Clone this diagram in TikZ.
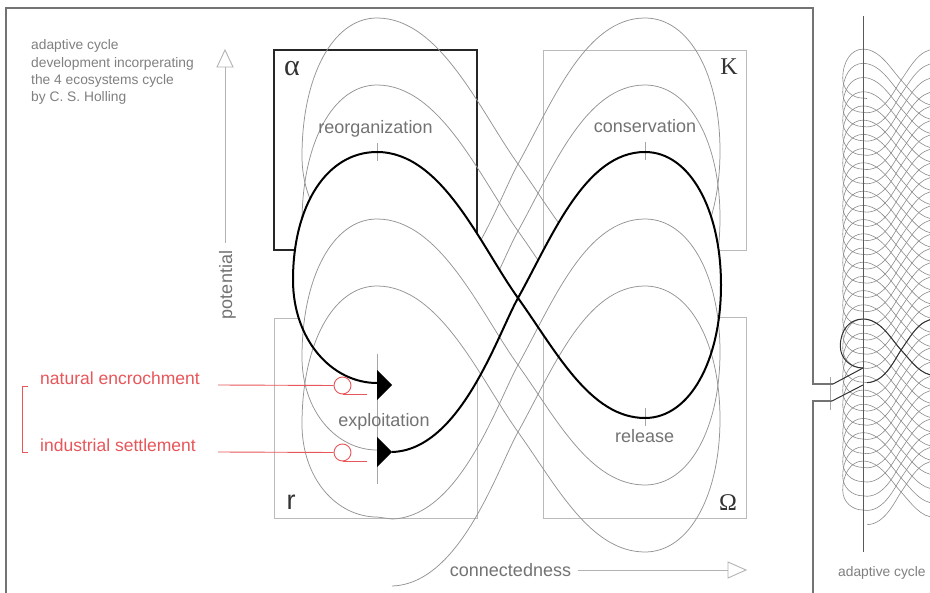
\documentclass[tikz,border=0pt]{standalone}
\usepackage{fontspec}
\setmainfont{Liberation Sans}
\newfontfamily\grfont{Liberation Serif}
\definecolor{annred}{RGB}{232,86,90}
\def\cyclepath{(392,452) .. controls (460,450) and (497,336) .. (518,298) .. controls (552,237) and (585,152) .. (645,152) .. controls (690,152) and (721,210) .. (721,285) .. controls (721,360) and (690,418) .. (645,418) .. controls (590,418) and (556,351) .. (518,298) .. controls (480,245) and (442,152) .. (377,152) .. controls (327,152) and (293,205) .. (293,280) .. controls (293,340) and (332,383) .. (377,383)}
\def\graypath{(392,452) .. controls (460,450) and (497,336) .. (518,298) .. controls (552,237) and (585,152) .. (645,152) .. controls (690,152) and (720,210) .. (720,285) .. controls (720,360) and (690,418) .. (645,418) .. controls (590,418) and (556,351) .. (518,298) .. controls (480,245) and (440,152) .. (377,152) .. controls (333,152) and (302,210) .. (302,290) .. controls (302,345) and (337,383) .. (377,383)}
\begin{document}
\begin{tikzpicture}[x=1pt,y=-1pt,
  graybox/.style={draw=black!27, line width=0.9pt},
  alphabox/.style={draw=black!85, line width=2pt},
  spiral/.style={draw=black!42, line width=0.75pt},
  sidespiral/.style={draw=black!45, line width=0.6pt},
  sidedark/.style={draw=black!80, line width=1pt},
  thickcyc/.style={draw=black, line width=2pt},
  ticks/.style={draw=black!35, line width=0.8pt},
  axisln/.style={draw=black!30, line width=0.9pt},
  framel/.style={draw=black!55, line width=1.1pt},
  lbl/.style={text=black!55, inner sep=0pt, font=\fontsize{18}{20}\selectfont},
  small/.style={text=black!50, inner sep=0pt, anchor=base west, font=\fontsize{13.8}{16}\selectfont},
  redlbl/.style={text=annred, inner sep=0pt, anchor=base west, font=\fontsize{17.5}{20}\selectfont},
  redln/.style={draw=annred, line width=0.9pt},
  greek/.style={text=black!80, inner sep=0pt, font=\grfont\fontsize{24}{26}\selectfont}
]
\useasboundingbox (0,0) rectangle (930,593);
\clip (0,0) rectangle (930,593);
\fill[white] (0,0) rectangle (930,593);

% quadrant boxes
\draw[alphabox] (274,50) rectangle (477,250);
\draw[graybox] (543,50) rectangle (746,250);
\draw[graybox] (274,318) rectangle (477,518);
\draw[graybox] (543,317) rectangle (746,518);

% earlier (upper) turns of the spiral, behind the highlighted cycle
\draw[spiral, shift={(0,-134)}] \graypath;
\draw[spiral, shift={(0,-67)}] \graypath -- (392,318);

% mask inside the highlighted cycle
\fill[white] \cyclepath -- cycle;

% axes
\node[lbl, rotate=90] (pot) at (227.5,285) {potential};
\coordinate (potTop) at (225,67);
\draw[axisln] (225,243) -- (potTop);
\draw[axisln, fill=white] (potTop) -- ++(-8,0) -- (225,50) -- (233,67) -- cycle;
\node[lbl, anchor=base] (con) at (510.5,577) {connectedness};
\coordinate (conEnd) at (728,570);
\draw[axisln] (578,570) -- (conEnd);
\draw[axisln, fill=white] (conEnd) -- ++(0,-8) -- (746,570) -- (728,578) -- cycle;

% later (lower) turns of the spiral
\foreach \d in {134,67} {
  \draw[spiral, shift={(0,\d)}] \graypath -- (392,385);
}

% ticks
\draw[ticks] (377,143) -- (377,161);
\draw[ticks] (645,142) -- (645,160);
\draw[ticks] (645,408) -- (645,426);
\draw[ticks] (377,354) -- (377,484);

% highlighted cycle
\draw[thickcyc] \cyclepath;
\fill[black] (377,370) -- (392,385) -- (377,400) -- cycle;
\fill[black] (377,437) -- (392,452) -- (377,467) -- cycle;

% phase labels
\node[lbl, anchor=base] (reo) at (375.5,134) {reorganization};
\node[lbl, anchor=base] (cons) at (645,133) {conservation};
\node[lbl, anchor=base] (rel) at (644.7,443) {release};
\node[lbl, anchor=base] (exp) at (384,426.5) {exploitation};
\node[greek, font=\grfont\fontsize{30}{32}\selectfont] (al) at (292,69) {α};
\node[greek] (kk) at (729,67) {K};
\node[greek] (om) at (728,503) {Ω};
\node[greek, font=\fontsize{27}{29}\selectfont] (rr) at (291,502) {r};

% title
\node[small] (t1) at (31,50) {adaptive cycle};
\node[small] (t2) at (31,67.5) {development incorperating};
\node[small] (t3) at (31,84.5) {the 4 ecosystems cycle};
\node[small] (t4) at (31,101.5) {by C. S. Holling};

% red annotations
\node[redlbl] (nat) at (40,385) {natural encrochment};
\node[redlbl] (ind) at (40,452) {industrial settlement};
\coordinate (natS) at (218,385);
\coordinate (indS) at (218,452);
\node[circle, draw=annred, line width=0.9pt, fill=white, minimum size=17pt, inner sep=0pt] (natC) at (342.5,385.5) {};
\node[circle, draw=annred, line width=0.9pt, fill=white, minimum size=17pt, inner sep=0pt] (indC) at (342.5,452.5) {};
\draw[redln] (natS) -- (natC.west);
\draw[redln] (indS) -- (indC.west);
\draw[redln] (natC.south) -- ++(24.5,0);
\draw[redln] (indC.south) -- ++(24.5,0);
\draw[redln] (28,386) -- (22,386) -- (22,452) -- (28,452);

% side view of the spiral
\begin{scope}[shift={(863,368)}, xscale=0.27, yscale=0.212, shift={(-377,-383)}]
  \foreach \j in {-19,...,10} {
    \draw[sidespiral, shift={(0,\j*67)}] \graypath -- (392,385);
  }
  \draw[sidedark] \cyclepath;
\end{scope}
\draw[draw=black!65, line width=1pt] (863,16) -- (863,552);
\draw[ticks] (830,377) -- (830,410);

% frame with notch
\draw[framel] (6,600) -- (6,8) -- (813,8) -- (813,384) -- (833,384);
\draw[draw=black!80, line width=1pt] (833,384) -- (863,368);
\draw[draw=black!80, line width=1pt] (863,385) -- (832,401);
\draw[framel] (832,401) -- (813,401) -- (813,600);

\node[small] (side) at (838,577) {adaptive cycle};
\end{tikzpicture}
\end{document}
